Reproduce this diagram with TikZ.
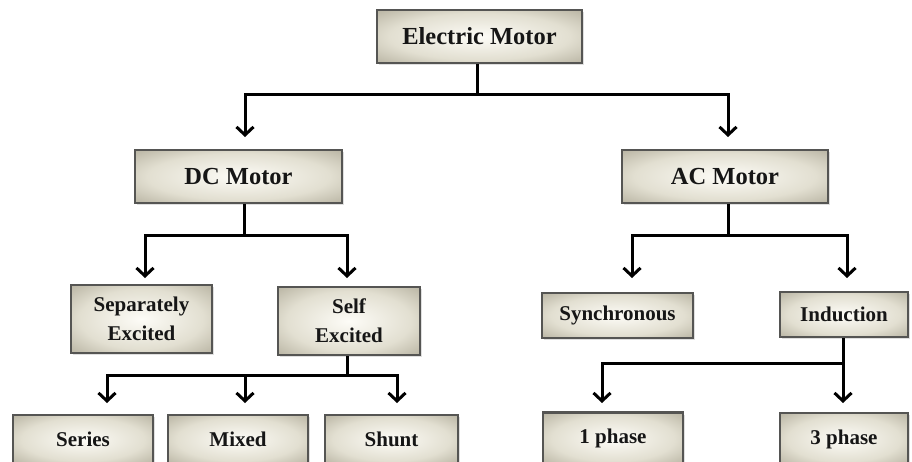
\documentclass[tikz,border=0pt]{standalone}
\usepackage{fontspec}
\setmainfont{Liberation Serif}
\usetikzlibrary{arrows.meta,shadows}
\definecolor{shA}{RGB}{253,252,247}
\definecolor{shB}{RGB}{226,223,209}
\definecolor{shC}{RGB}{165,160,141}
\definecolor{shD}{RGB}{110,106,92}
\definecolor{boxborder}{RGB}{85,85,83}
\definecolor{txt}{RGB}{22,22,22}
\pgfdeclareradialshading{boxshade}{\pgfpoint{0bp}{0bp}}{color(0bp)=(shA); color(22bp)=(shB); color(42bp)=(shC); color(52bp)=(shD); color(75bp)=(shD)}
\tikzset{
  box/.style={draw=boxborder, line width=2.5pt, shading=boxshade, inner sep=2pt,
    text=txt, font=\bfseries, align=center,
    drop shadow={shadow xshift=2pt, shadow yshift=-2pt, opacity=0.25}},
  bigbox/.style={box, font=\fontsize{24.5}{26}\selectfont\bfseries},
  smallbox/.style={box, font=\fontsize{21}{29}\selectfont\bfseries},
  conn/.style={line width=3pt, black},
  arr/.style={conn, -{Straight Barb[length=8pt,width=17pt]}}
}
\begin{document}
\begin{tikzpicture}[x=1pt,y=-1pt]
\clip (0,0) rectangle (912,461);
\fill[white] (0,0) rectangle (912,461);
% boxes
\node[bigbox, minimum width=205pt, minimum height=53pt] (em) at (479.5,36.5) {Electric Motor};
\node[bigbox, minimum width=207pt, minimum height=53pt] (dc) at (238.5,176.5) {DC Motor};
\node[bigbox, minimum width=206pt, minimum height=53pt] (ac) at (725,176.5) {AC Motor};
\node[smallbox, minimum width=141pt, minimum height=68pt] (sep) at (141.5,319) {Separately\\Excited};
\node[smallbox, minimum width=142pt, minimum height=68pt] (self) at (349,321) {Self\\Excited};
\node[smallbox, minimum width=151pt, minimum height=45pt] (syn) at (617.5,315.5) {Synchronous};
\node[smallbox, minimum width=128pt, minimum height=45pt] (ind) at (844,314.5) {Induction};
\node[smallbox, minimum width=140pt, minimum height=49pt] (ser) at (83,439.5) {Series};
\node[smallbox, minimum width=140pt, minimum height=49pt] (mix) at (238,439.5) {Mixed};
\node[smallbox, minimum width=133pt, minimum height=49pt] (shu) at (391.5,439.5) {Shunt};
\node[smallbox, minimum width=140pt, minimum height=52pt] (ph1) at (613,438.5) {1 phase};
\node[smallbox, minimum width=128pt, minimum height=52pt] (ph3) at (844,439) {3 phase};
% junctions and arrow ends
\coordinate (j0) at (477,94);
\coordinate (adc) at (245,137);
\coordinate (aac) at (728,137);
\coordinate (j1) at (244,235);
\coordinate (asep) at (145,278);
\coordinate (aself) at (347,278);
\coordinate (j2) at (728,235);
\coordinate (asyn) at (632,278);
\coordinate (aind) at (847,278);
\coordinate (j3) at (347,375);
\coordinate (aser) at (107,403);
\coordinate (amix) at (245,403);
\coordinate (ashu) at (397,403);
\coordinate (j4) at (843,363);
\coordinate (aph1) at (602,403);
\coordinate (aph3) at (843,403);
% connectors
\draw[conn] (em.south -| j0) -- (j0);
\draw[arr] (j0) -| (adc);
\draw[arr] (j0) -| (aac);
\draw[conn] (dc.south -| j1) -- (j1);
\draw[arr] (j1) -| (asep);
\draw[arr] (j1) -| (aself);
\draw[conn] (ac.south -| j2) -- (j2);
\draw[arr] (j2) -| (asyn);
\draw[arr] (j2) -| (aind);
\draw[conn] (self.south -| j3) -- (j3);
\draw[arr] (j3) -| (aser);
\draw[arr] (amix |- j3) -- (amix);
\draw[arr] (j3) -| (ashu);
\draw[conn] (ind.south -| j4) -- (j4);
\draw[arr] (j4) -| (aph1);
\draw[arr] (j4) -- (aph3);
\end{tikzpicture}
\end{document}
